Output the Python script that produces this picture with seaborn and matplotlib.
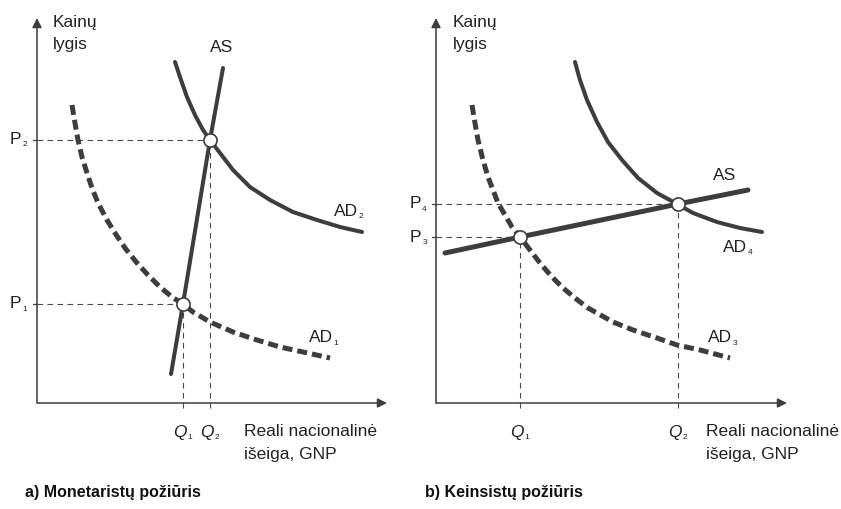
import matplotlib
matplotlib.use("Agg")
import matplotlib.pyplot as plt
import seaborn as sns

# curve points (output Q, price level P), one set per panel
# a) monetarists
as_a_q = [134, 146, 173, 186]
as_a_p = [29, 99, 263, 335]
ad2_q = [138, 143, 150, 158, 166, 173, 183, 196, 213, 233, 256, 280, 303, 325]
ad2_p = [341, 326, 306, 288, 273, 263, 250, 233, 216, 203, 191, 183, 176, 171]
ad1_q = [35, 38, 41, 45, 50, 55, 61, 70, 78, 88, 100, 111, 123, 135, 146, 156, 173,
         196, 220, 243, 266, 293]
ad1_p = [298, 280, 263, 246, 230, 215, 200, 183, 170, 155, 140, 128, 116, 106, 99, 91, 81,
         71, 63, 56, 51, 45]
eq_a_q = [146, 173]
eq_a_p = [99, 263]

# b) Keynesians
as_b_q = [9, 84, 242, 312]
as_b_p = [150, 166, 199, 213]
ad4_q = [139, 144, 151, 161, 172, 186, 202, 221, 241, 257, 281, 304, 326]
ad4_p = [341, 323, 303, 281, 261, 243, 225, 210, 199, 190, 181, 175, 171]
ad3_q = [36, 39, 42, 47, 52, 57, 62, 69, 76, 84, 94, 104, 116, 127, 139, 152, 177, 197,
         221, 241, 264, 294]
ad3_p = [298, 280, 263, 243, 226, 213, 200, 188, 176, 166, 153, 140, 126, 115, 105, 95, 81,
         73, 65, 58, 53, 45]
eq_b_q = [84, 242]
eq_b_p = [166, 199]

DARK = "#3d3d3d"
GUIDE = "#4a4a4a"
TXT = 12.5

sns.set_style("white")
plt.rcParams["font.family"] = ["Liberation Sans Narrow", "Liberation Sans", "DejaVu Sans"]

fig = plt.figure(figsize=(8.41, 5.09), dpi=100)


def label(ax, x, y, main, sub=None, size=TXT, ha="center", style="normal"):
    t = ax.text(x, y, main, fontsize=size, ha=ha, va="center", style=style, color="#222222")
    if sub:
        ax.annotate(sub, xy=(1, 0.12), xycoords=t, xytext=(0.5, 0), textcoords="offset points",
                    fontsize=6, ha="left", va="center", color="#222222")
    return t


def frame(ax, xmax, ymax):
    ax.set_xlim(0, xmax)
    ax.set_ylim(0, ymax)
    ax.axis("off")
    arrow = dict(arrowstyle="-|>", color=DARK, lw=1.1, mutation_scale=14, shrinkA=0, shrinkB=0)
    ax.annotate("", xy=(0, ymax), xytext=(0, 0), arrowprops=arrow, annotation_clip=False)
    ax.annotate("", xy=(xmax, 0), xytext=(0, 0), arrowprops=arrow, annotation_clip=False)


def guides(ax, qs, ps):
    for q, p in zip(qs, ps):
        ax.plot([0, q], [p, p], color=GUIDE, lw=0.8, ls=(0, (5, 4)), clip_on=False, zorder=1)
        ax.plot([q, q], [-5, p], color=GUIDE, lw=0.8, ls=(0, (5, 4)), clip_on=False, zorder=1)
        ax.plot([-4, 0], [p, p], color=GUIDE, lw=1.0, clip_on=False, zorder=1)


def points(ax, qs, ps):
    sns.scatterplot(x=qs, y=ps, ax=ax, s=90, color="white", edgecolor=DARK,
                    linewidth=1.2, zorder=5, clip_on=False)


# ---- panel a ----
ax1 = fig.add_axes([37 / 841, 106 / 509, 350 / 841, 385 / 509])
frame(ax1, 350, 385)
guides(ax1, eq_a_q, eq_a_p)
sns.lineplot(x=ad1_q, y=ad1_p, sort=False, ax=ax1, color=DARK, lw=3.6,
             linestyle=(0, (2.0, 1.0)), estimator=None)
sns.lineplot(x=ad2_q, y=ad2_p, sort=False, ax=ax1, color=DARK, lw=2.9, estimator=None)
sns.lineplot(x=as_a_q, y=as_a_p, sort=False, ax=ax1, color=DARK, lw=2.9, estimator=None)
points(ax1, eq_a_q, eq_a_p)

label(ax1, 16, 381, "Kainų", ha="left")
label(ax1, 16, 358, "lygis", ha="left")
label(ax1, 185, 356, "AS")
label(ax1, 297, 192, "AD", "2", ha="left")
label(ax1, 272, 65, "AD", "1", ha="left")
label(ax1, -27, 264, "P", "2", ha="left")
label(ax1, -27, 99, "P", "1", ha="left")
label(ax1, 143, -29, "Q", "1", style="italic")
label(ax1, 170, -29, "Q", "2", style="italic")
label(ax1, 207, -29, "Reali nacionalinė", ha="left")
label(ax1, 207, -52, "išeiga, GNP", ha="left")
ax1.text(-12, -89, "a) Monetaristų požiūris", fontsize=11.5, fontweight="bold",
         ha="left", va="center", color="#111111")

# ---- panel b ----
ax2 = fig.add_axes([436 / 841, 106 / 509, 351 / 841, 385 / 509])
frame(ax2, 351, 385)
guides(ax2, eq_b_q, eq_b_p)
sns.lineplot(x=ad3_q, y=ad3_p, sort=False, ax=ax2, color=DARK, lw=3.6,
             linestyle=(0, (2.0, 1.0)), estimator=None)
sns.lineplot(x=ad4_q, y=ad4_p, sort=False, ax=ax2, color=DARK, lw=2.9, estimator=None)
sns.lineplot(x=as_b_q, y=as_b_p, sort=False, ax=ax2, color=DARK, lw=3.6, estimator=None)
points(ax2, eq_b_q, eq_b_p)

label(ax2, 17, 381, "Kainų", ha="left")
label(ax2, 17, 358, "lygis", ha="left")
label(ax2, 289, 228, "AS")
label(ax2, 287, 156, "AD", "4", ha="left")
label(ax2, 272, 65, "AD", "3", ha="left")
label(ax2, -26, 199, "P", "4", ha="left")
label(ax2, -26, 166, "P", "3", ha="left")
label(ax2, 81, -29, "Q", "1", style="italic")
label(ax2, 239, -29, "Q", "2", style="italic")
label(ax2, 270, -29, "Reali nacionalinė", ha="left")
label(ax2, 270, -52, "išeiga, GNP", ha="left")
ax2.text(-11, -89, "b) Keinsistų požiūris", fontsize=11.5, fontweight="bold",
         ha="left", va="center", color="#111111")

fig.savefig("out.png", dpi=100)
